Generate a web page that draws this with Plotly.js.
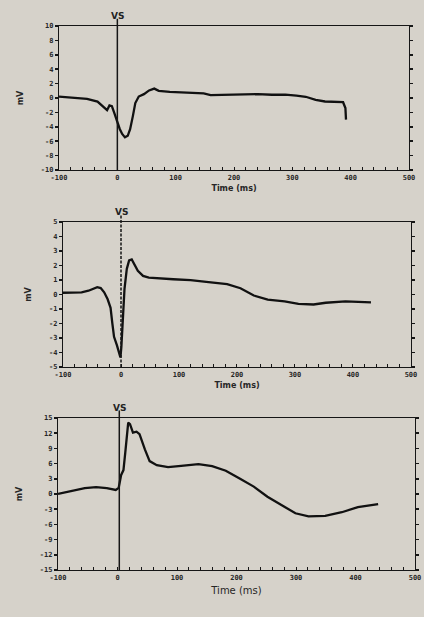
<!DOCTYPE html>
<html>
<head>
<meta charset="utf-8">
<script src="https://cdn.plot.ly/plotly-3.0.1.min.js"></script>
<style>
html,body{margin:0;padding:0;background:#d6d2ca;}
#chart{width:424px;height:617px;}
</style>
</head>
<body>
<div id="chart"></div>
<script>
// Panel 1 (top)
const time1 = [-100,-75,-52,-34,-22,-17.6,-13.5,-9.4,-4.7,0,4.1,8.3,13,17.8,21.9,26.6,30.8,36.7,45.6,54.4,63.3,71,89.9,119,148,160,206,241,265,288,307,323,340,356,387,391,392];
const mv1 = [0.19,0.0,-0.11,-0.5,-1.37,-1.7,-1.03,-1.13,-2.21,-3.37,-4.3,-5.0,-5.47,-5.25,-4.34,-2.52,-0.7,0.2,0.53,1.05,1.3,1.0,0.84,0.75,0.65,0.39,0.46,0.53,0.45,0.46,0.32,0.17,-0.25,-0.49,-0.59,-1.4,-3.0];
// Panel 2 (middle)
const time2 = [-100,-68,-56,-41,-35,-29,-23,-18,-15,-12,-7,-3,-1,0.6,3,6,10,14,18.5,23,29,38,48,90,120,151,183,206,229,253,282,306,332,353,387,431];
const mv2 = [0.12,0.15,0.26,0.51,0.44,0.15,-0.33,-0.92,-1.97,-2.92,-3.51,-4.1,-4.34,-3.64,-1.51,0.37,1.77,2.35,2.42,2.11,1.64,1.28,1.16,1.05,0.99,0.86,0.72,0.43,-0.07,-0.35,-0.48,-0.65,-0.69,-0.57,-0.47,-0.55];
// Panel 3 (bottom)
const time3 = [-100,-85,-55,-36,-18,-3,2,6,10,13,18,21,26,32,37,46,54,66,85,107,136,159,182,206,229,252,276,299,321,349,377,404,438];
const mv3 = [0,0.39,1.17,1.36,1.15,0.8,1.22,3.71,4.72,8.1,14.1,13.8,12.1,12.3,11.8,8.8,6.5,5.7,5.3,5.56,5.9,5.5,4.6,3.0,1.46,-0.55,-2.3,-3.8,-4.4,-4.3,-3.6,-2.6,-2.0];

const vsTime = [0, 0, 3];
const xTicks = [-100,0,100,200,300,400,500];
const xTickText = ["-100","0","100","200","300","400","500"];
const yTicks1 = [10,8,6,4,2,0,-2,-4,-6,-8,-10];
const yTicks2 = [5,4,3,2,1,0,-1,-2,-3,-4,-5];
const yTicks3 = [15,12,9,6,3,0,-3,-6,-9,-12,-15];
const xTitle = "Time (ms)";
const yTitle = "mV";
const markerLabel = "VS";

const ink = '#161616';
const txt = '#262626';
const tickFont = {family:'DejaVu Sans Mono', size:7, color:txt, weight:'bold'};

function xaxis(domain, anchor, titleSize, standoff, weight){
  return {
    domain: domain, anchor: anchor, range:[-100,500],
    tickvals: xTicks, ticktext: xTickText,
    ticks:'inside', ticklen:3, tickwidth:1, tickcolor:ink,
    minor:{dtick:20, ticks:'inside', ticklen:3, tickcolor:ink, tickwidth:1},
    showline:true, linecolor:ink, linewidth:1.2, mirror:true,
    showgrid:false, zeroline:false, fixedrange:true,
    tickfont: tickFont,
    title:{text:xTitle, font:{family:'DejaVu Sans', size:titleSize, color:txt, weight:weight}, standoff:standoff}
  };
}
function yaxis(domain, anchor, vals){
  return {
    domain: domain, anchor: anchor, range:[vals[vals.length-1], vals[0]],
    tickvals: vals, ticktext: vals.map(v=>String(v)),
    ticks:'outside', ticklen:3, tickwidth:1.5, tickcolor:ink,
    showline:true, linecolor:ink, linewidth:1.2, mirror:'ticks',
    showgrid:false, zeroline:false, fixedrange:true,
    tickfont: tickFont,
    title:{text:yTitle, font:{family:'DejaVu Sans', size:8, color:txt, weight:'bold'}, standoff:16}
  };
}

const lineStyle = {color:'#111', width:2.3};
const data = [
  {x:time1, y:mv1, xaxis:'x', yaxis:'y', mode:'lines', line:lineStyle, hoverinfo:'skip'},
  {x:time2, y:mv2, xaxis:'x2', yaxis:'y2', mode:'lines', line:lineStyle, hoverinfo:'skip'},
  {x:time3, y:mv3, xaxis:'x3', yaxis:'y3', mode:'lines', line:lineStyle, hoverinfo:'skip'}
];

const axRefs = [['x','y'],['x2','y2'],['x3','y3']];
const shapes = axRefs.map((r,i)=>({
  type:'line', xref:r[0], yref:r[1]+' domain', x0:vsTime[i], x1:vsTime[i], y0:0, y1:1.05,
  line:{color:ink, width:1.5, dash: i===1 ? '3px,1.5px' : 'solid'}
}));
const annotations = axRefs.map((r,i)=>({
  xref:r[0], yref:r[1]+' domain', x:vsTime[i], y:1.02, yanchor:'bottom', xanchor:'center',
  text:'<b>'+markerLabel+'</b>', showarrow:false,
  font:{family:'DejaVu Sans', size:9, color:'#222'}
}));

const layout = {
  width:424, height:617,
  margin:{l:0,r:0,t:0,b:0},
  paper_bgcolor:'#d6d2ca', plot_bgcolor:'#d6d2ca',
  showlegend:false,
  xaxis: xaxis([0.1392,0.9646],'y',8,4,'bold'),
  yaxis: yaxis([0.7245,0.9579],'x',yTicks1),
  xaxis2: xaxis([0.1486,0.9693],'y2',8,4,'bold'),
  yaxis2: yaxis([0.4052,0.6402],'x2',yTicks2),
  xaxis3: xaxis([0.1368,0.9788],'y3',10,6,'normal'),
  yaxis3: yaxis([0.0762,0.3225],'x3',yTicks3),
  shapes: shapes,
  annotations: annotations
};

Plotly.newPlot('chart', data, layout, {displayModeBar:false, staticPlot:true});
</script>
</body>
</html>
